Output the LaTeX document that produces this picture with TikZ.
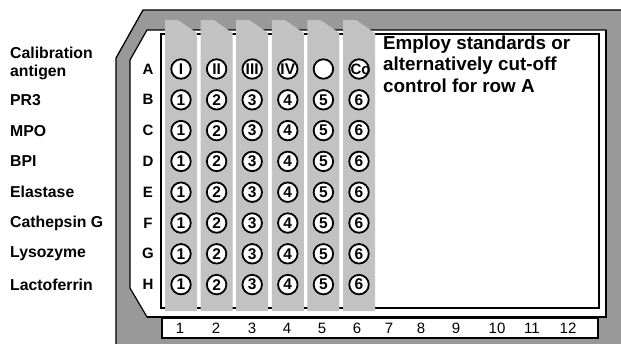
\documentclass[tikz,border=0pt]{standalone}
\usepackage{fontspec}
\setmainfont{Liberation Sans}
\usetikzlibrary{positioning,calc}
\definecolor{plategray}{gray}{0.6}
\definecolor{stripgray}{gray}{0.76}

\begin{document}
\begin{tikzpicture}[x=1pt,y=-1pt,
    well/.style={circle,draw,line width=1.8pt,fill=white,minimum size=19.5pt,inner sep=0pt,font=\fontsize{15.5}{15.5}\selectfont\bfseries},
    rowlbl/.style={font=\fontsize{15}{15}\selectfont\bfseries},
    antigen/.style={anchor=west,align=left,inner sep=0pt,font=\fontsize{15.8}{18}\selectfont\bfseries},
    colnum/.style={font=\fontsize{15}{15}\selectfont}]
  \useasboundingbox (0,0) rectangle (621,343);
  \clip (0,0) rectangle (621,343);
  % dark plate
  \fill[plategray] (143,10) -- (640,10) -- (640,360) -- (116,360) -- (116,58) -- cycle;
  \draw[line width=1.3pt] (640,10) -- (143,10) -- (116,58) -- (116,360);
  % white insert
  \fill[white] (147,30) -- (606,30) -- (606,317) -- (147,317) -- (130,288) -- (130,60) -- cycle;
  \draw[line width=1.2pt] (147,30) -- (606,30) -- (606,317) -- (147,317) -- (130,288) -- (130,60) -- cycle;
  \draw[line width=2.2pt] (606,30) -- (606,317) -- (147,317);
  \draw[line width=1.5pt] (161,34) rectangle (599,308);
  % strips
  \foreach \c in {1,...,6} {
    \pgfmathsetmacro\sx{165+35.6*(\c-1)}
    \fill[stripgray] ({\sx},20) -- ({\sx+13},20) -- ({\sx+32},33) -- ({\sx+32},311) -- ({\sx},311) -- cycle;
  }
  % rows
  \foreach \r [count=\i from 0] in {A,B,C,D,E,F,G,H}
    \node[rowlbl] (row\r) at (148,{69+30.8*\i}) {\r};
  \foreach \t [count=\c] in {I,II,III,IV,{},{}}
    \node[well] (wA\c) at ({181+35.6*(\c-1)},69) {\t};
  \node[inner sep=0pt,font=\fontsize{15}{15}\selectfont\bfseries,xshift=1.5pt] (co) at (wA6.center) {Co};
  \foreach \r [count=\i] in {B,C,D,E,F,G,H}
    \foreach \c in {1,...,6}
      \node[well] (w\r\c) at ({181+35.6*(\c-1)},{69+30.8*\i}) {\c};
  % antigens
  \node[antigen] (calib) at (10,63) {Calibration\\antigen};
  \foreach \a/\r [count=\i] in {PR3/B,MPO/C,BPI/D,Elastase/E,Cathepsin G/F,Lysozyme/G,Lactoferrin/H}
    \node[antigen] (ag\r) at (10,{69+30.8*\i}) {\a};
  \node[anchor=north west,align=left,inner sep=0pt,font=\fontsize{18.8}{21.5}\selectfont\bfseries] (note) at (383,35.5)
    {Employ standards or\\alternatively cut-off\\control for row A};
  % number strip
  \fill[white] (162,318) rectangle (598,338);
  \draw[line width=1.5pt] (162,318) rectangle (598,338);
  \draw[line width=2.4pt] (598,318) -- (598,338) -- (162,338);
  \foreach \x [count=\n] in {180,216,252,287,322,357,389,421,456,497,532,568}
    \node[colnum] (col\n) at (\x,328.5) {\n};
\end{tikzpicture}
\end{document}
